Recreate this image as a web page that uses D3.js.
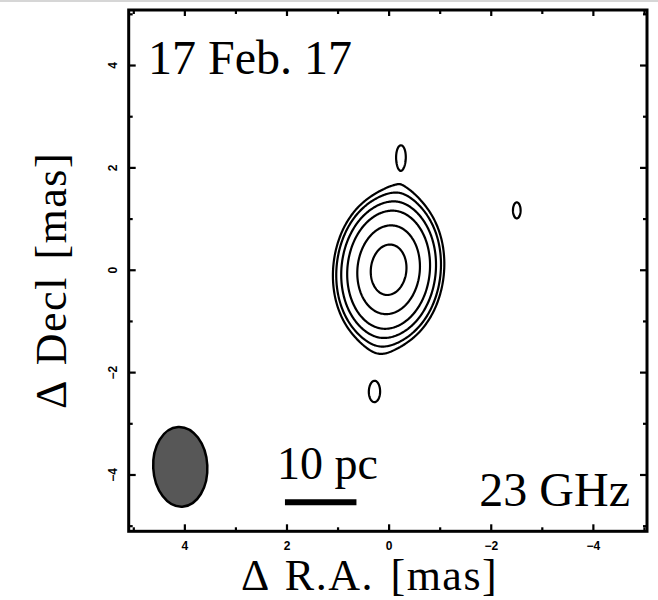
<!DOCTYPE html>
<html>
<head>
<meta charset="utf-8">
<script src="https://cdn.jsdelivr.net/npm/d3@7"></script>
<style>
  body { margin: 0; background: #fff; }
  svg { display: block; }
</style>
</head>
<body>
<svg id="map" width="658" height="600"></svg>
<script>
// ---- Labels ----
const epochLabel = "17 Feb. 17";
const bandLabel = "23 GHz";
const raTitle = "Δ R.A. [mas]";
const decTitle = "Δ Decl [mas]";
const scaleLabel = "10 pc";

// ---- Axis ticks (mas) ----
const majorTicks = [4, 2, 0, -2, -4];
const minorTicks = [5, 3, 1, -1, -3, -5];

// ---- Brightness model: elliptical Gaussian components (mas, peak-normalised) ----
const compRA       = [0.00, -0.26,  0.22, -0.24,  0.29, -2.51];
const compDec      = [0.00,  2.35, -2.40,  2.21, -2.40,  1.16];
const compPeak     = [1.00,  0.063, 0.063, 0.050, 0.050, 0.120];
const compSigMinor = [0.50,  0.35,  0.35,  0.09,  0.12,  0.11];
const compSigMajor = [0.71,  0.60,  0.60,  0.22,  0.22,  0.23];
const compPA       = [-6, 0, 0, 0, 0, 0];

// ---- Contour levels (fraction of peak) ----
const levels = [0.095, 0.125, 0.182, 0.272, 0.475, 0.785];

// ---- Restoring beam (FWHM, mas; PA, deg) ----
const beamMajor = 1.56, beamMinor = 1.06, beamPA = 3;

// ---- Linear scale: 10 pc expressed in mas ----
const scaleLengthMas = 1.40;

// ---- Layout ----
const W = 658, H = 600;
const frame = { left: 128.7, right: 647, top: 10, bottom: 531.3 };
const svg = d3.select("#map");

const x = d3.scaleLinear().domain([5.09, -5.06]).range([frame.left, frame.right]);
const y = d3.scaleLinear().domain([5.075, -5.11]).range([frame.top, frame.bottom]);

// faint strip along the top edge
svg.append("rect").attr("x", 0).attr("y", 0).attr("width", W).attr("height", 2)
  .attr("fill", "#d6d6d6");

// ---- Model image on a grid ----
const step = 0.02;
const raMax = 5.1, decMax = 5.12;
const nx = Math.round(10.2 / step) + 1;
const ny = Math.round(10.24 / step) + 1;
const values = new Float64Array(nx * ny);
const comps = compRA.map((ra, k) => {
  const t = compPA[k] * Math.PI / 180;
  return {
    ra, dec: compDec[k], a: compPeak[k],
    c: Math.cos(t), s: Math.sin(t),
    i2u: 1 / (2 * compSigMinor[k] ** 2),
    i2v: 1 / (2 * compSigMajor[k] ** 2)
  };
});
for (let j = 0; j < ny; j++) {
  const dec = decMax - j * step;
  for (let i = 0; i < nx; i++) {
    const ra = raMax - i * step;
    let v = 0;
    for (const g of comps) {
      const dx = ra - g.ra, dy = dec - g.dec;
      const u = dx * g.c - dy * g.s;
      const w = dx * g.s + dy * g.c;
      const e = u * u * g.i2u + w * w * g.i2v;
      if (e < 40) v += g.a * Math.exp(-e);
    }
    values[j * nx + i] = v;
  }
}

const contours = d3.contours().size([nx, ny]).thresholds(levels)(values);
const gridToScreen = d3.geoTransform({
  point(gx, gy) {
    this.stream.point(x(raMax - (gx - 0.5) * step), y(decMax - (gy - 0.5) * step));
  }
});
const contourPath = d3.geoPath(gridToScreen);

svg.append("g").attr("class", "contours")
  .selectAll("path").data(contours).join("path")
  .attr("d", contourPath)
  .attr("fill", "none")
  .attr("stroke", "#000")
  .attr("stroke-width", 2.2)
  .attr("stroke-linejoin", "round");

// ---- Beam ----
const beamRA = 4.08, beamDec = -3.85;
svg.append("ellipse")
  .attr("cx", x(beamRA)).attr("cy", y(beamDec))
  .attr("rx", Math.abs(x(0) - x(beamMinor / 2)))
  .attr("ry", Math.abs(y(0) - y(beamMajor / 2)))
  .attr("transform", `rotate(${-beamPA},${x(beamRA)},${y(beamDec)})`)
  .attr("fill", "#575757")
  .attr("stroke", "#000")
  .attr("stroke-width", 2.5);

// ---- Scale bar ----
const barStart = 2.03, barDec = -4.54;
svg.append("line")
  .attr("x1", x(barStart)).attr("x2", x(barStart - scaleLengthMas))
  .attr("y1", y(barDec)).attr("y2", y(barDec))
  .attr("stroke", "#000").attr("stroke-width", 6);

const serif = "'Liberation Serif', 'Times New Roman', serif";
svg.append("text").attr("x", 277).attr("y", 479)
  .attr("font-family", serif).attr("font-size", 46).text(scaleLabel);

// ---- Annotations ----
svg.append("text").attr("x", 148).attr("y", 74)
  .attr("font-family", serif).attr("font-size", 48).text(epochLabel);
svg.append("text").attr("x", 630).attr("y", 506).attr("text-anchor", "end")
  .attr("font-family", serif).attr("font-size", 48).text(bandLabel);

// ---- Axes ----
const tickFont = "'Liberation Sans', Arial, sans-serif";
const fmt = d => d < 0 ? "\u2212" + Math.abs(d) : String(d);

function addAxis(axisFn, scale, transform, ticks, size, labelled, pad) {
  const g = svg.append("g").attr("transform", transform)
    .call(axisFn(scale).tickValues(ticks).tickSizeInner(-size).tickSizeOuter(0)
      .tickPadding(pad).tickFormat(labelled ? fmt : ""));
  g.select(".domain").remove();
  g.selectAll(".tick line").attr("stroke", "#000").attr("stroke-width", 2.2);
  g.selectAll("text").attr("font-family", tickFont).attr("font-size", 12)
    .attr("font-weight", "bold").attr("fill", "#000");
  return g;
}

// bottom
addAxis(d3.axisBottom, x, `translate(0,${frame.bottom})`, majorTicks, 7, true, 9.8);
addAxis(d3.axisBottom, x, `translate(0,${frame.bottom})`, minorTicks, 4, false, 0);
// top
addAxis(d3.axisTop, x, `translate(0,${frame.top})`, majorTicks, 6, false, 0);
addAxis(d3.axisTop, x, `translate(0,${frame.top})`, minorTicks, 4, false, 0);
// left
const yl = addAxis(d3.axisLeft, y, `translate(${frame.left},0)`, majorTicks, 7, true, 0);
yl.selectAll("text")
  .attr("x", null).attr("text-anchor", "middle").attr("dy", "0.35em")
  .attr("transform", "translate(-15.7,0) rotate(-90)");
addAxis(d3.axisLeft, y, `translate(${frame.left},0)`, minorTicks, 4, false, 0);
// right
addAxis(d3.axisRight, y, `translate(${frame.right},0)`, majorTicks, 7, false, 0);
addAxis(d3.axisRight, y, `translate(${frame.right},0)`, minorTicks, 4, false, 0);

// frame
svg.append("rect")
  .attr("x", frame.left).attr("y", frame.top)
  .attr("width", frame.right - frame.left).attr("height", frame.bottom - frame.top)
  .attr("fill", "none").attr("stroke", "#000").attr("stroke-width", 3);

// axis titles
svg.append("text").attr("x", 241).attr("y", 590.3)
  .attr("font-family", serif).attr("font-size", 44)
  .attr("letter-spacing", 1.5).attr("word-spacing", 4)
  .text(raTitle);
svg.append("text").attr("transform", "translate(66,280.5) rotate(-90)")
  .attr("text-anchor", "middle")
  .attr("font-family", serif).attr("font-size", 44)
  .attr("letter-spacing", 1.5).attr("word-spacing", 4)
  .text(decTitle);
</script>
</body>
</html>
